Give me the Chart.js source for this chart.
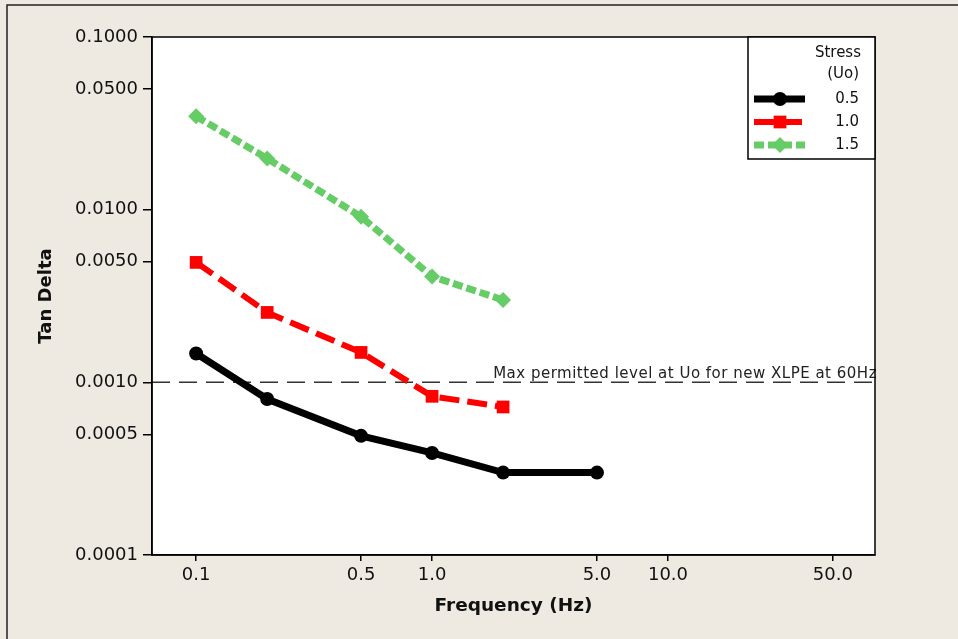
<!DOCTYPE html>
<html>
<head>
<meta charset="utf-8">
<script src="https://cdn.jsdelivr.net/npm/chart.js@4.4.1/dist/chart.umd.min.js"></script>
<style>
  html, body { margin: 0; padding: 0; background: #eeeae1; }
  #wrap { width: 958px; height: 639px; position: relative; }
</style>
</head>
<body>
<div id="wrap"><canvas id="c"></canvas></div>
<script>
// Datos (escala log-log)
const freqs = [0.1, 0.2, 0.5, 1.0, 2.0, 5.0];
const stress05 = [0.00147, 0.00080, 0.00049, 0.00039, 0.00030, 0.00030];
const stress10 = [0.00495, 0.00254, 0.00149, 0.00083, 0.00072];
const stress15 = [0.0347, 0.0198, 0.0091, 0.0041, 0.0030];
const seriesNames = ["0.5", "1.0", "1.5"];
const xTicks = [0.1, 0.5, 1.0, 5.0, 10.0, 50.0];
const yTicks = [0.1, 0.05, 0.01, 0.005, 0.001, 0.0005, 0.0001];
const refLevel = 0.001;
const refText = "Max permitted level at Uo for new XLPE at 60Hz";

const FONT = "'DejaVu Sans', Verdana, sans-serif";
const pts = (ys) => ys.map((y, i) => ({ x: freqs[i], y }));

// fondo beige + area blanca + marco
const framePlugin = {
  id: "frame",
  beforeDraw(chart) {
    const { ctx, chartArea: a, width, height } = chart;
    ctx.save();
    ctx.fillStyle = "#eeeae1";
    ctx.fillRect(0, 0, width, height);
    ctx.strokeStyle = "#222";
    ctx.lineWidth = 1.5;
    ctx.beginPath();
    ctx.moveTo(7, height); ctx.lineTo(7, 5); ctx.lineTo(width, 5);
    ctx.stroke();
    ctx.fillStyle = "#fff";
    ctx.fillRect(a.left, a.top, a.right - a.left, a.bottom - a.top);
    ctx.restore();
  },
  beforeDatasetsDraw(chart) {
    const { ctx, chartArea: a, scales } = chart;
    const y = scales.y.getPixelForValue(refLevel);
    ctx.save();
    ctx.strokeStyle = "#333";
    ctx.lineWidth = 1.5;
    ctx.setLineDash([18, 9]);
    ctx.beginPath();
    ctx.moveTo(a.left, y); ctx.lineTo(a.right, y);
    ctx.stroke();
    ctx.setLineDash([]);
    ctx.fillStyle = "#222";
    ctx.font = "15px " + FONT;
    ctx.letterSpacing = "0.5px";
    ctx.textAlign = "right";
    ctx.textBaseline = "alphabetic";
    ctx.fillText(refText, a.right + 2, y - 4);
    ctx.restore();
  },
  afterDraw(chart) {
    const { ctx, chartArea: a } = chart;
    ctx.save();
    ctx.strokeStyle = "#000";
    ctx.lineWidth = 1.5;
    ctx.strokeRect(a.left, a.top, a.right - a.left, a.bottom - a.top);

    // leyenda
    const bx = 748, by = a.top, bw = a.right - bx, bh = 122;
    ctx.fillStyle = "#fff";
    ctx.fillRect(bx, by, bw, bh);
    ctx.strokeRect(bx, by, bw, bh);
    ctx.fillStyle = "#111";
    ctx.font = "15px " + FONT;
    ctx.textAlign = "right";
    ctx.textBaseline = "middle";
    ctx.fillText("Stress", a.right - 14, by + 16);
    ctx.fillText("(Uo)", a.right - 16, by + 37);
    chart.data.datasets.forEach((ds, i) => {
      const ly = by + 62 + i * 23;
      ctx.save();
      ctx.strokeStyle = ds.borderColor;
      ctx.lineWidth = ds.borderWidth;
      ctx.setLineDash(ds.borderDash || []);
      ctx.beginPath();
      ctx.moveTo(bx + 6, ly); ctx.lineTo(bx + 57, ly);
      ctx.stroke();
      ctx.fillStyle = ds.pointBackgroundColor;
      ctx.setLineDash([]);
      Chart.helpers.drawPoint(ctx, {
        pointStyle: ds.pointStyle, radius: ds.pointRadius, borderWidth: 0
      }, bx + 32, ly);
      ctx.restore();
      ctx.fillStyle = "#111";
      ctx.fillText(seriesNames[i], a.right - 16, ly);
    });
    ctx.restore();
  }
};

new Chart(document.getElementById("c"), {
  type: "scatter",
  data: {
    datasets: [
      { label: seriesNames[0], data: pts(stress05), showLine: true,
        borderColor: "#000", backgroundColor: "#000", pointBackgroundColor: "#000",
        borderWidth: 7, pointStyle: "circle", pointRadius: 7, pointBorderWidth: 0 },
      { label: seriesNames[1], data: pts(stress10), showLine: true, borderDash: [20, 8],
        borderColor: "#ff0000", backgroundColor: "#ff0000", pointBackgroundColor: "#ff0000",
        borderWidth: 6, pointStyle: "rect", pointRadius: 9, pointBorderWidth: 0 },
      { label: seriesNames[2], data: pts(stress15), showLine: true, borderDash: [10, 4],
        borderColor: "#66cc66", backgroundColor: "#66cc66", pointBackgroundColor: "#66cc66",
        borderWidth: 7, pointStyle: "rectRot", pointRadius: 8, pointBorderWidth: 0 }
    ]
  },
  options: {
    responsive: true,
    maintainAspectRatio: false,
    animation: false,
    layout: { padding: { top: 37, right: 83, left: 0, bottom: 0 } },
    scales: {
      x: {
        type: "logarithmic", min: 0.065, max: 75.4,
        afterBuildTicks: (s) => { s.ticks = xTicks.map(v => ({ value: v })); },
        afterFit: (s) => { s.height = 84; },
        ticks: { color: "#111", font: { family: FONT, size: 18 }, padding: 4,
                 autoSkip: false, maxRotation: 0, callback: (v) => Number(v).toFixed(1) },
        grid: { drawOnChartArea: false, tickLength: 6, color: "#000", lineWidth: 1.5 },
        border: { color: "#000", width: 1.5 },
        title: { display: true, text: "Frequency (Hz)", color: "#111",
                 font: { family: FONT, size: 18.5, weight: "bold" }, padding: { top: 0, bottom: 22 } }
      },
      y: {
        type: "logarithmic", min: 0.0001, max: 0.1,
        afterBuildTicks: (s) => { s.ticks = yTicks.map(v => ({ value: v })); },
        afterFit: (s) => { s.width = 152; },
        ticks: { color: "#111", font: { family: FONT, size: 18 }, padding: 5,
                 autoSkip: false, callback: (v) => Number(v).toFixed(4) },
        grid: { drawOnChartArea: false, tickLength: 9, color: "#000", lineWidth: 1.5 },
        border: { color: "#000", width: 1.5 },
        title: { display: true, text: "Tan Delta", color: "#111",
                 font: { family: FONT, size: 18, weight: "bold" }, padding: { top: 36, bottom: 0 } }
      }
    },
    elements: { line: { tension: 0 } },
    plugins: { legend: { display: false }, tooltip: { enabled: false } }
  },
  plugins: [framePlugin]
});
</script>
</body>
</html>
